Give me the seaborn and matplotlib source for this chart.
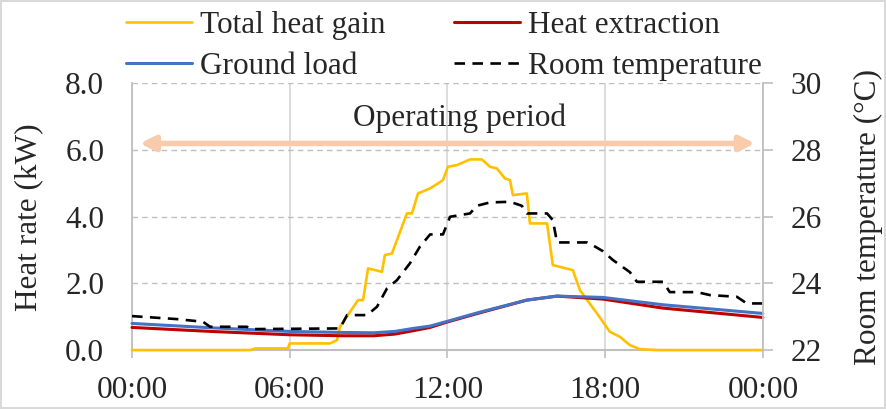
import matplotlib
matplotlib.use('Agg')
import matplotlib.pyplot as plt
import seaborn as sns

# data (hours since midnight)
gain_h = [0, 4.5, 4.7, 5.93, 6.0, 7.53, 7.8, 7.91, 8.6, 8.79, 8.98, 9.51, 9.62, 9.89,
          10.46, 10.65, 10.88, 11.34, 11.64, 11.83, 12.02, 12.36, 12.86, 13.31, 13.62,
          13.88, 14.19, 14.38, 14.49, 15.02, 15.14, 15.79, 16.01, 16.77, 17.04, 17.69,
          18.18, 18.56, 18.94, 19.32, 20.0, 24.0]
gain = [0, 0, 0.05, 0.05, 0.2, 0.2, 0.3, 0.7, 1.5, 1.5, 2.45, 2.35, 2.85, 2.9,
        4.1, 4.1, 4.7, 4.85, 5.0, 5.1, 5.5, 5.55, 5.72, 5.72, 5.5,
        5.45, 5.15, 5.1, 4.65, 4.7, 3.8, 3.8, 2.55, 2.4, 1.8, 1.1,
        0.55, 0.4, 0.15, 0.03, 0, 0]

load_h = [0, 3, 6, 8, 9.2, 10, 10.69, 11.34, 11.98, 13.24, 15.02, 16.17, 17.92, 20.2, 24]
ground = [0.8, 0.67, 0.56, 0.53, 0.52, 0.56, 0.65, 0.72, 0.86, 1.14, 1.5, 1.62, 1.58, 1.36, 1.1]
extract = [0.68, 0.56, 0.46, 0.43, 0.43, 0.48, 0.58, 0.68, 0.84, 1.12, 1.5, 1.62, 1.53, 1.26, 0.98]

temp_h = [0, 1.71, 2.7, 2.97, 4.37, 4.5, 7.91, 8.18, 8.94, 9.32, 9.7, 10.08, 10.57,
          10.95, 11.34, 11.83, 12.1, 12.86, 13.12, 13.62, 14.38, 14.83, 15.02, 15.79,
          16.01, 16.17, 17.31, 17.54, 17.91, 18.3, 18.94, 19.21, 20.2, 20.46, 21.49,
          21.99, 23.01, 23.39, 24]
temp = [23.02, 22.93, 22.85, 22.7, 22.7, 22.63, 22.65, 23.05, 23.05, 23.3, 23.85, 24.1, 24.6,
        25.1, 25.47, 25.47, 26.0, 26.1, 26.33, 26.43, 26.45, 26.33, 26.1, 26.1,
        25.9, 25.23, 25.23, 25.14, 24.97, 24.7, 24.34, 24.05, 24.05, 23.74, 23.74,
        23.65, 23.6, 23.4, 23.4]

xticks = [0, 6, 12, 18, 24]
xlabels = ['00:00', '06:00', '12:00', '18:00', '00:00']

sns.set_style('white')
plt.rcParams['font.family'] = ['Liberation Serif', 'DejaVu Serif']
plt.rcParams['font.size'] = 22.5

fig = plt.figure(figsize=(8.86, 4.09), dpi=100)
fig.patch.set_edgecolor('#d9d9d9')
fig.patch.set_linewidth(1.5)
ax = fig.add_axes([0.149, 0.144, 0.712, 0.652])
ax2 = ax.twinx()

sns.lineplot(x=gain_h, y=gain, ax=ax, color='#ffc000', lw=1.9, estimator=None, sort=False,
             label='Total heat gain', legend=False)
sns.lineplot(x=load_h, y=extract, ax=ax, color='#c00000', lw=2.2, estimator=None, sort=False,
             label='Heat extraction', legend=False)
sns.lineplot(x=load_h, y=ground, ax=ax, color='#4472c4', lw=2.2, estimator=None, sort=False,
             label='Ground load', legend=False)
sns.lineplot(x=temp_h, y=temp, ax=ax2, color='black', lw=1.9, estimator=None, sort=False,
             label='Room temperature', legend=False)
ax2.lines[0].set_linestyle((0, (4, 2.8)))
for ln in ax.lines:
    ln.set_clip_on(False)
    ln.set_zorder(3)

ax.set_xlim(0, 24)
ax.set_ylim(0, 8)
ax2.set_ylim(22, 30)
ax.set_xticks(xticks)
ax.set_xticklabels(xlabels)
ax.set_yticks([0, 2, 4, 6, 8])
ax.set_yticklabels(['0.0', '2.0', '4.0', '6.0', '8.0'])
ax2.set_yticks([22, 24, 26, 28, 30])

ax.grid(axis='x', color='#d9d9d9', lw=1.3, ls='-')
ax.grid(axis='y', color='#bfbfbf', lw=1.0, ls=(0, (4, 3)))
ax.set_axisbelow(True)

for s in ['top', 'right']:
    ax.spines[s].set_visible(False)
for s in ['top', 'left', 'bottom']:
    ax2.spines[s].set_visible(False)
ax.spines['left'].set_color('#bfbfbf')
ax.spines['bottom'].set_color('#bfbfbf')
ax.spines['left'].set_linewidth(1.3)
ax.spines['bottom'].set_linewidth(1.5)
ax2.spines['right'].set_color('#bfbfbf')
ax2.spines['right'].set_linewidth(1.3)

ax.tick_params(axis='x', direction='out', length=6, width=1.2, color='#bfbfbf', pad=13, bottom=True)
ax.tick_params(axis='y', length=0, pad=20)
ax2.tick_params(axis='y', direction='out', length=7, width=1.2, color='#bfbfbf', pad=13, right=True)

ax.set_ylabel('Heat rate (kW)')
ax.yaxis.set_label_coords(-0.14, 0.5)
ax2.set_ylabel('Room temperature (°C)')
ax2.yaxis.set_label_coords(1.144, 0.5)

# operating period arrow
ax.annotate('', xy=(0.3, 6.2), xytext=(23.7, 6.2),
            arrowprops=dict(arrowstyle='<|-|>', color='#f8cbad', lw=4, mutation_scale=22,
                            shrinkA=0, shrinkB=0))
ax.text(12.46, 6.97, 'Operating period', ha='center', va='center')

h1, l1 = ax.get_legend_handles_labels()
h2, l2 = ax2.get_legend_handles_labels()
order = [h1[0], h1[2], h1[1], h2[0]]
labels = [l1[0], l1[2], l1[1], l2[0]]
fig.legend(order, labels, ncol=2, loc='center', bbox_to_anchor=(0.501, 0.887), frameon=False,
           handlelength=2.1, handletextpad=0.25, columnspacing=2.2, labelspacing=0.37)

plt.savefig('out.png', dpi=100)
plt.close()
